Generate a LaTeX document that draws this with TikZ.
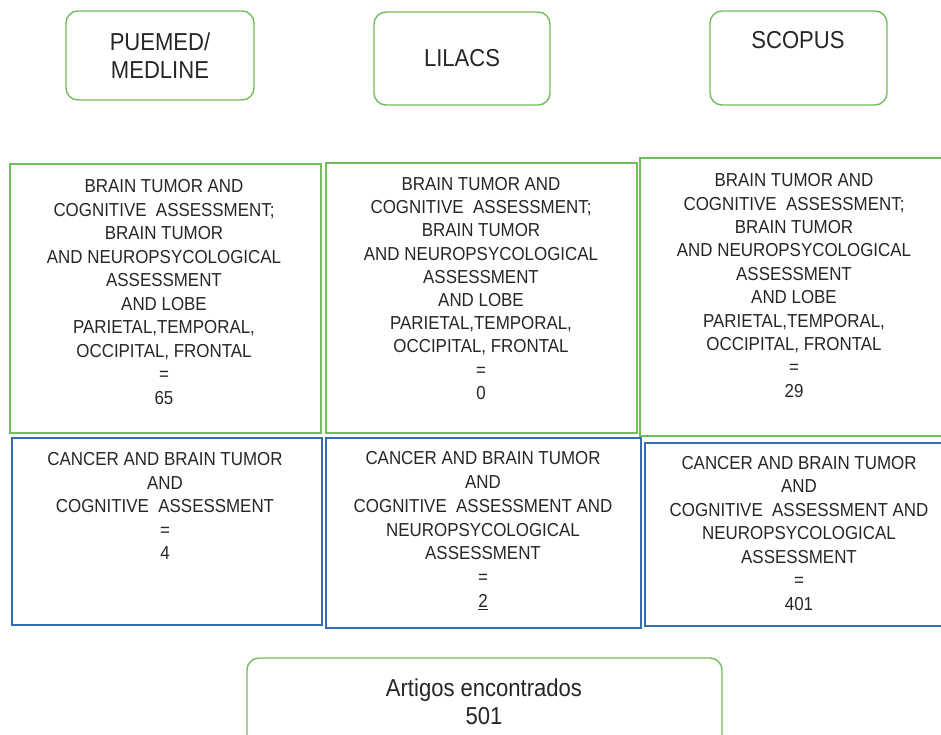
\documentclass[tikz,border=0pt]{standalone}
\usepackage{fontspec}
\setmainfont{Liberation Sans}[FakeStretch=0.9]
\definecolor{boxgreen}{RGB}{112,190,90}
\definecolor{boxblue}{RGB}{50,110,175}
\begin{document}
\begin{tikzpicture}[x=1pt,y=-1pt,
  dbbox/.style={draw=boxgreen,line width=1.4pt,rounded corners=12pt,inner sep=0pt},
  greenbox/.style={draw=boxgreen,line width=1.4pt,inner sep=0pt},
  bluebox/.style={draw=boxblue,line width=1.4pt,inner sep=0pt},
  midtext/.style={align=center,inner sep=0pt,text=black!85,font=\fontsize{18.8}{23.5}\selectfont},
  bigtext/.style={align=center,inner sep=0pt,text=black!85,font=\fontsize{24.5}{28}\selectfont}]
\useasboundingbox (0,0) rectangle (941,735);
\clip (0,0) rectangle (941,735);
% database boxes
\node[dbbox,minimum width=188pt,minimum height=89pt] (pubmed) at (160,55.5) {};
\node[dbbox,minimum width=176pt,minimum height=93pt] (lilacs) at (462,58.5) {};
\node[dbbox,minimum width=177pt,minimum height=94pt] (scopus) at (798.5,58) {};
\node[bigtext] (pubmedt) at (160,56) {PUEMED/\\MEDLINE};
\node[bigtext] (lilacst) at (462,58) {LILACS};
\node[bigtext] (scopust) at (798,40) {SCOPUS};
% green boxes
\node[greenbox,minimum width=311pt,minimum height=269pt] (g1) at (165.5,298.5) {};
\node[greenbox,minimum width=311pt,minimum height=270pt] (g2) at (481.5,298) {};
\node[greenbox,minimum width=305pt,minimum height=278pt] (g3) at (792.5,297) {};
\node[midtext] (g1t) at (164,292) {BRAIN TUMOR AND\\COGNITIVE\ \ ASSESSMENT;\\BRAIN TUMOR\\AND NEUROPSYCOLOGICAL\\ASSESSMENT\\AND LOBE\\PARIETAL,TEMPORAL,\\OCCIPITAL, FRONTAL\\=\\65};
\node[midtext,font=\fontsize{18.8}{23.2}\selectfont] (g2t) at (481,288.5) {BRAIN TUMOR AND\\COGNITIVE\ \ ASSESSMENT;\\BRAIN TUMOR\\AND NEUROPSYCOLOGICAL\\ASSESSMENT\\AND LOBE\\PARIETAL,TEMPORAL,\\OCCIPITAL, FRONTAL\\=\\0};
\node[midtext,font=\fontsize{18.8}{23.4}\selectfont] (g3t) at (794,285.5) {BRAIN TUMOR AND\\COGNITIVE\ \ ASSESSMENT;\\BRAIN TUMOR\\AND NEUROPSYCOLOGICAL\\ASSESSMENT\\AND LOBE\\PARIETAL,TEMPORAL,\\OCCIPITAL, FRONTAL\\=\\29};
% blue boxes
\node[bluebox,minimum width=310pt,minimum height=187pt] (b1) at (167,531.5) {};
\node[bluebox,minimum width=315pt,minimum height=190pt] (b2) at (483.5,533) {};
\node[bluebox,minimum width=300pt,minimum height=183pt] (b3) at (795,534.5) {};
\node[midtext] (b1t) at (165,506) {CANCER AND BRAIN TUMOR\\AND\\COGNITIVE\ \ ASSESSMENT\\=\\4};
\node[midtext,font=\fontsize{18.8}{23.8}\selectfont] (b2t) at (483,530.5) {CANCER AND BRAIN TUMOR\\AND\\COGNITIVE\ \ ASSESSMENT AND\\NEUROPSYCOLOGICAL\\ASSESSMENT\\=\\\underline{2}};
\node[midtext,font=\fontsize{18.8}{23.5}\selectfont] (b3t) at (799,533.5) {CANCER AND BRAIN TUMOR\\AND\\COGNITIVE\ \ ASSESSMENT AND\\NEUROPSYCOLOGICAL\\ASSESSMENT\\=\\401};
% result box
\node[dbbox,minimum width=475pt,minimum height=112pt] (result) at (484.5,714) {};
\node[bigtext] (resultt) at (484,702) {Artigos encontrados\\501};
\end{tikzpicture}
\end{document}
